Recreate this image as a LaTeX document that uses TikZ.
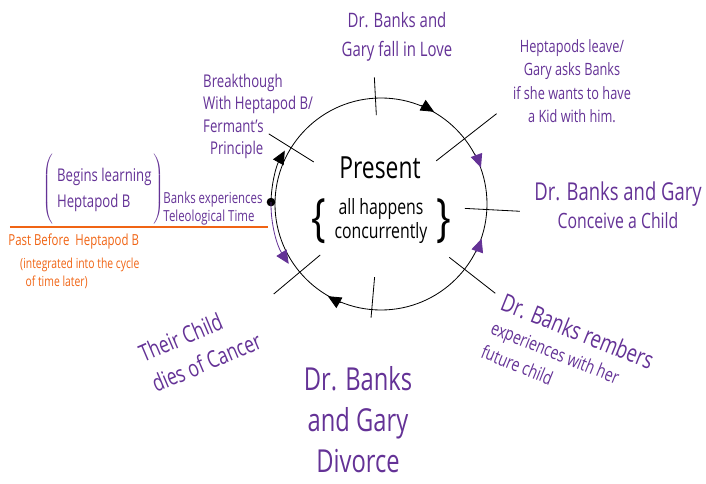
\documentclass[tikz,border=0pt]{standalone}
\usepackage{fontspec}
\setmainfont{Open Sans}[FakeStretch=0.75]
\usepackage{tikz}
\usetikzlibrary{arrows.meta,positioning,calc}
\definecolor{PenPurple}{RGB}{100,50,150}
\definecolor{PenOrange}{RGB}{240,100,20}

\begin{document}
\begin{tikzpicture}[
  hand/.style={
    text=PenPurple,
    align=center,
    inner sep=0pt
  },
  pastnote/.style={
    text=PenOrange,
    align=left,
    inner sep=0pt
  },
  ink/.style={
    align=center,
    inner sep=0pt
  },
  tick/.style={line width=0.7pt},
  flow/.style={-{Triangle[length=4mm,width=3.6mm]}, line width=0.7pt},
  nowdot/.style={circle, fill=black, minimum size=0.26cm, inner sep=0pt}
]
\useasboundingbox (-11.43,-8.4) rectangle (9.75,6.12);

\node[draw, circle, minimum size=6.36cm, inner sep=0pt, line width=0.7pt] (cycle) at (0,0) {};

% event ticks across the cycle
\foreach \ang/\rin/\rout in {93/2.67/3.8, 38/2.1/4.4, -3/2.52/4.17, -38/2.6/4.35,
    -95/2.2/3.42, 220/2.38/4.2, 148/2.38/3.97}
  \draw[tick] ($(cycle.center)+(\ang:\rin)$) -- ($(cycle.center)+(\ang:\rout)$);

% direction of time
\draw[flow] (cycle.68) arc[start angle=68, end angle=60, radius=3.18cm];
\draw[flow] (cycle.248) arc[start angle=248, end angle=240, radius=3.18cm];
\draw[flow, PenPurple] (cycle.28) arc[start angle=28, end angle=20, radius=3.18cm];
\draw[flow, PenPurple] (cycle.-27) arc[start angle=-27, end angle=-19, radius=3.18cm];

\node[nowdot] (now) at (179:3.3) {};
\draw[flow] (now.center) arc[start angle=179, end angle=151, radius=3.3cm];
\draw[flow, PenPurple] (now.center) arc[start angle=179, end angle=213, radius=3.3cm];

\coordinate (pastfrom) at (-11.13,-0.69);
\coordinate (pastto) at (-3.39,-0.69);
\draw[PenOrange, line width=1.3pt] (pastfrom) -- (pastto);

\node[ink, font=\fontsize{26}{26}\selectfont] (present) at (-0.03,1.1) {Present};
\node[ink, font=\fontsize{18}{21}\selectfont] (concur) at (0,-0.51) {all happens\\concurrently};
\node[ink, font=\fontsize{44}{44}\selectfont, left=7pt of concur] (braceL) {\{};
\node[ink, font=\fontsize{44}{44}\selectfont, right=7pt of concur] (braceR) {\}};

\node[hand, font=\fontsize{17}{25}\selectfont] (love) at (0.48,5.01) {Dr. Banks and\\Gary fall in Love};
\node[hand, font=\fontsize{14.5}{20}\selectfont] (leave) at (5.73,3.69)
  {Heptapods leave/\\Gary asks Banks\\if she wants to have\\a Kid with him.};
\node[hand, font=\fontsize{18}{24}\selectfont] (conceive) at (7.11,-0.03)
  {{\fontsize{21}{24}\selectfont Dr. Banks and Gary}\\Conceive a Child};
\node[hand, align=left, rotate=-22, font=\fontsize{16}{22}\selectfont] (remember) at (5.61,-4.53)
  {{\fontsize{21}{24}\selectfont Dr. Banks rembers}\\experiences with her\\future child};
\node[hand, font=\fontsize{27}{35}\selectfont] (divorce) at (-0.69,-6.48) {Dr. Banks\\and Gary\\Divorce};
\node[hand, align=left, rotate=23, font=\fontsize{20}{28}\selectfont] (death) at (-5.43,-4.29)
  {Their Child\\dies of Cancer};

\node[hand, align=left, font=\fontsize{15}{22}\selectfont] (learning) at (-8.3,0.42) {Begins learning\\Heptapod B};
\node[hand, left=2pt of learning] (parenL) {$\left(\vrule width 0pt height 1cm depth 1cm\right.$};
\node[hand, right=0pt of learning] (parenR) {$\left.\vrule width 0pt height 1cm depth 1cm\right)$};
\node[hand, align=left, font=\fontsize{13}{15}\selectfont] (teleo) at (-5.04,-0.14)
  {Banks experiences\\Teleological Time};
\node[hand, align=left, anchor=north west, font=\fontsize{15}{19}\selectfont] (breakthrough) at (-5.34,3.9)
  {Breakthough\\With Heptapod B/\\Fermant's\\\ \ Principle};

\node[pastnote, font=\fontsize{13}{15}\selectfont] (past) at (-9.22,-1.14) {Past Before\ \ Heptapod B};
\node[pastnote, anchor=north west, font=\fontsize{11.8}{15}\selectfont] (later) at (-10.83,-1.62)
  {(integrated into the cycle\\\ \ of time later)};
\end{tikzpicture}
\end{document}
